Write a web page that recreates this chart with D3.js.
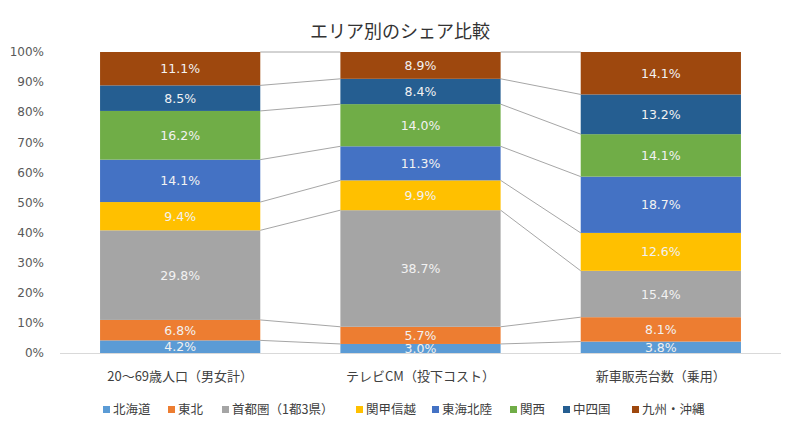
<!DOCTYPE html>
<html><head><meta charset="utf-8">
<script src="https://cdn.jsdelivr.net/npm/d3@7"></script>
<style>body{margin:0;background:#fff}svg{display:block}</style>
</head><body><svg id="c" width="800" height="438"></svg>
<script>
const categories = ["20～69歳人口（男女計）", "テレビCM（投下コスト）", "新車販売台数（乗用）"];
const seriesNames = ["北海道", "東北", "首都圏（1都3県）", "関甲信越", "東海北陸", "関西", "中四国", "九州・沖縄"];
const colors = ["#5B9BD5", "#ED7D31", "#A5A5A5", "#FFC000", "#4472C4", "#70AD47", "#255E91", "#9E480E"];
const values = [
  [4.2, 6.8, 29.8, 9.4, 14.1, 16.2, 8.5, 11.1],
  [3.0, 5.7, 38.7, 9.9, 11.3, 14.0, 8.4, 8.9],
  [3.8, 8.1, 15.4, 12.6, 18.7, 14.1, 13.2, 14.1]
];
const yTicks = [0, 10, 20, 30, 40, 50, 60, 70, 80, 90, 100];

const svg = d3.select("#c");
const jp = "'Noto Sans CJK JP', sans-serif";
const num = "'DejaVu Sans', Verdana, sans-serif";

const x = d3.scaleBand().domain(categories).range([60, 781]).paddingInner(1/3).paddingOuter(1/6);
const y = d3.scaleLinear().domain([0, 100]).range([353, 52]);

// stacked, normalized
const stacks = values.map(row => {
  const tot = d3.sum(row);
  let acc = 0;
  return row.map((v, i) => { const s = acc / tot * 100; acc += v; return {i, v, y0: s, y1: acc / tot * 100}; });
});

// title
svg.append("text").attr("x", 400).attr("y", 38).attr("text-anchor", "middle")
  .attr("font-family", jp).attr("font-size", 18).attr("fill", "#333").text("エリア別のシェア比較");

// y axis labels
svg.append("g").selectAll("text").data(yTicks).join("text")
  .attr("x", 44).attr("y", d => y(d)).attr("dy", "0.35em").attr("text-anchor", "end")
  .attr("font-family", num).attr("font-size", 12).attr("fill", "#595959").text(d => d + "%");

// series lines
const bw = x.bandwidth();
for (let c = 0; c < categories.length - 1; c++) {
  seriesNames.forEach((s, i) => {
    svg.append("line")
      .attr("x1", x(categories[c]) + bw).attr("y1", y(stacks[c][i].y1))
      .attr("x2", x(categories[c + 1])).attr("y2", y(stacks[c + 1][i].y1))
      .attr("stroke", "#A6A6A6").attr("stroke-width", 1);
  });
}

// bars
categories.forEach((cat, c) => {
  const g = svg.append("g");
  g.selectAll("rect").data(stacks[c]).join("rect")
    .attr("x", x(cat)).attr("width", bw)
    .attr("y", d => y(d.y1)).attr("height", d => y(d.y0) - y(d.y1))
    .attr("fill", d => colors[d.i]);
  g.selectAll("text").data(stacks[c]).join("text")
    .attr("x", x(cat) + bw / 2).attr("y", d => y((d.y0 + d.y1) / 2)).attr("dy", "0.36em")
    .attr("text-anchor", "middle").attr("font-family", num).attr("font-size", 12.5)
    .attr("fill", "#F2F2F2").text(d => d.v.toFixed(1) + "%");
});

// x axis line
svg.append("line").attr("x1", 60).attr("x2", 781).attr("y1", 353.5).attr("y2", 353.5)
  .attr("stroke", "#D9D9D9").attr("stroke-width", 1);

// category labels
svg.append("g").selectAll("text").data(categories).join("text")
  .attr("x", d => x(d) + bw / 2).attr("y", 381).attr("text-anchor", "middle")
  .attr("font-family", jp).attr("font-size", 13).attr("fill", "#404040").text(d => d);

// legend
const legX = [103, 168, 222, 356, 432, 510, 563, 632];
const lg = svg.append("g").selectAll("g").data(seriesNames).join("g")
  .attr("transform", (d, i) => `translate(${legX[i]},410)`);
lg.append("rect").attr("x", 0).attr("y", -4).attr("width", 7).attr("height", 7).attr("fill", (d, i) => colors[i]);
lg.append("text").attr("x", 10).attr("y", 0).attr("dy", "0.35em")
  .attr("font-family", jp).attr("font-size", 12.5).attr("fill", "#404040").text(d => d);
</script></body></html>
